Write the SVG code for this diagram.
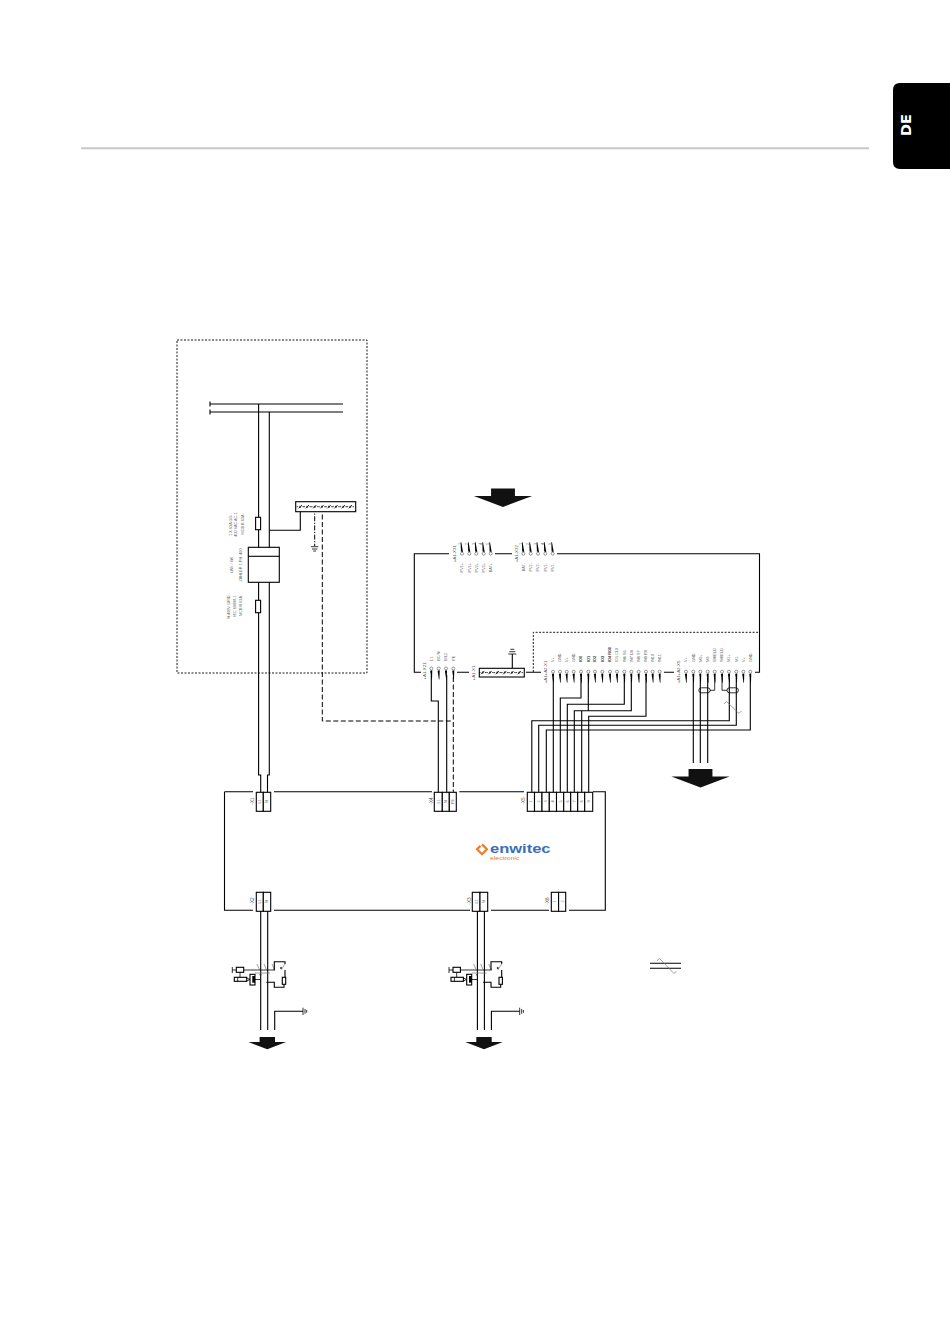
<svg xmlns="http://www.w3.org/2000/svg" width="950" height="1344" viewBox="0 0 950 1344">
<style>
text{font-family:"Liberation Sans",Arial,sans-serif;font-size:3.8px;fill:#666}
.m{text-anchor:middle}
.e{text-anchor:end}
.n{font-size:4.4px;fill:#555}
.x{font-size:4.7px;fill:#555}
.w{fill:none;stroke:#000;stroke-width:1.1}
.th{fill:none;stroke:#000;stroke-width:.8}
.box{fill:#fff;stroke:#000;stroke-width:1.1}
.dot{fill:none;stroke:#000;stroke-width:.9;stroke-dasharray:2 1.5}
.dash{fill:none;stroke:#000;stroke-width:1;stroke-dasharray:5 2.5}
.dd{fill:none;stroke:#000;stroke-width:1;stroke-dasharray:5 1.5 1.2 1.5}
.g{fill:none;stroke:#777;stroke-width:.7}
.ar{fill:#111}
.c{fill:#fff;stroke:#555;stroke-width:.6}
</style>
<defs>
<g id="pd"><circle class="c" r="1.5"/><path d="M-1.1 2.2L1 1.8L.7 11L.2 11Z" fill="#000"/></g>
<g id="pu"><circle class="c" r="1.5"/><path d="M-1 -1.8L1.1 -2.2L1.4 -11.5L.7 -11.5Z" fill="#000" transform="scale(-1,1)"/></g>
<g id="st"><path d="M-1.7 1.7L1.7 -1.7M-3.6 0H-2.2M2.2 0H3.6" stroke="#000" stroke-width=".8"/><circle r="1" fill="#222"/></g>
<g id="rcd">
<path class="th" d="M232.3 967V973M232.3 970H236.3M243.7 970H275M240 972.3V977.3M246.7 978L250 979.5L246.7 981M255 979.5H260.7"/>
<rect class="box" x="236.3" y="967.3" width="7.4" height="5" stroke-width=".8"/>
<rect class="box" x="234.3" y="977.3" width="12.4" height="4" stroke-width=".8"/>
<path class="th" d="M237.7 977.3V981.3"/>
<rect class="box" x="250" y="974.3" width="5" height="10.7" stroke-width=".8"/>
<rect x="252.3" y="976" width="2.7" height="6.7" fill="#000"/>
<path class="g" d="M257 964L259.5 970M264 964L266.5 970M272 964L274.5 970M285 964L281 970"/>
<circle cx="260.5" cy="974.7" r=".9" fill="#222"/><circle cx="267.3" cy="982.3" r=".9" fill="#222"/><circle cx="281" cy="968" r=".9" fill="#222"/>
<path class="w" d="M274.3 970V961.7H285V964M285 970V977.3M284 984.3V987.3H274.3V982.3H267.3"/>
<rect class="box" x="282.3" y="977.3" width="3.4" height="7" stroke-width=".8"/>
<path class="g" d="M255 973H270"/>
</g>
<path id="arrow" class="ar" d="M-7.7 0H7.7V5H18.8L0 12.3L-18.8 5H-7.7Z"/>
</defs>
<rect width="950" height="1344" fill="#fff"/>

<g id="page">
<path d="M81 148.3H869" stroke="#c8c8c8" stroke-width="2" fill="none"/>
<path d="M950 83H900Q893 83 893 90V162Q893 169 900 169H950Z" fill="#000"/>
<text transform="translate(911,125) rotate(-90)" class="m" style="font-family:'DejaVu Sans',sans-serif;font-weight:700;font-size:14.5px;fill:#fff">DE</text>
</g>

<g id="connectors">
<rect class="dot" x="177" y="340" width="190" height="333"/>
<path class="w" d="M210 404H343M210 412H343M210 401.5V406.5M210 409.5V414.5"/>
<path class="w" d="M258.6 404V775H260.7V792M269.3 412V775H267.5V792"/>
<path class="w" d="M269.3 530.3H300.3V507"/>
<path class="dd" d="M314.7 507V546"/>
<path class="dash" d="M322.3 507V721H453.3"/>
<path class="dash" d="M453.3 677V792"/>
<path class="w" d="M449 553.7H414.3V672.3H421M495 553.7H512M557 553.7H759.5V672.3H755"/>
<path class="w" d="M457 672.3H469M526 672.3H541M664 672.3H674"/>
<path class="dot" d="M533.3 672V632.3H759.5"/>
<path class="w" d="M431.3 675V701H438.3V792M446.7 675V792"/>
<path class="w" d="M512.3 668V654"/>
<path class="w" d="M553.3 678V792M581 678V698H560.3V792M624.3 678V704.3H567.3V792M631.3 678V710.7H574.3V792M588.3 678V710.7M646 678V716.3H588.7V792M581.7 710.7V792"/>
<path class="w" d="M729.3 678V720.7H531.8V792M736.3 678V725.3H538.7V792M750.3 678V730H546.3V792"/>
<path class="w" d="M693.3 678V763M700.3 678V763M707.7 678V763"/>
<path class="th" d="M714.7 678V690.3H710M722 678V690.3H727"/>
<rect class="th" x="698.8" y="687.8" width="11.4" height="5" rx="2.5"/>
<rect class="th" x="727" y="687.8" width="11.4" height="5" rx="2.5"/>
<path class="g" d="M724 704L726.5 701.5L739 713.5L741.5 711"/>
<path class="w" d="M224.5 791.8H253M274 791.8H432M459.3 791.8H524M593 791.8H605.3V910.3H569M549 910.3H491M470 910.3H274M253 910.3H224.5V791.8"/>
<path class="w" d="M260.7 911V1030M267.7 911V1030M274.7 1030V1011.3H303"/>
<path class="w" d="M477.4 911V1030M484.4 911V1030M491.4 1030V1011.3H519.7"/>
<path class="th" d="M303 1007.7V1015M519.7 1007.7V1015M305 1009V1013.7M521.7 1009V1013.7M306.7 1010V1012.7M523.4 1010V1012.7"/>
<path class="w" d="M650 963.3H681M650 968.3H681"/>
<path class="g" d="M657 960.7L659.5 958.5L674 973.5L676.5 971"/>
<path class="th" d="M311 546.7H318.4M312 549H317.4M313.3 551H316"/>
<path class="th" d="M508.3 654H516.3M509.3 651.7H515.3M510.3 649.3H514.3"/>
</g>

<g id="arrow-top"><use href="#arrow" transform="translate(503,488.5) scale(1.55,1.5)"/></g>
<g id="arrow-right"><use href="#arrow" transform="translate(700.5,769) scale(1.55,1.5)"/></g>
<g id="arrow-left"><use href="#arrow" transform="translate(267.3,1037)"/></g>
<g id="arrow-mid"><use href="#arrow" transform="translate(484,1037)"/></g>
<g id="rcd-1"><use href="#rcd"/></g>
<g id="rcd-2"><use href="#rcd" x="216.7"/></g>

<g id="grid-protection">
<rect class="box" x="255.6" y="517.3" width="5" height="12.4"/>
<rect class="box" x="248.3" y="547.3" width="31" height="35"/>
<path class="w" d="M248.3 556.3H279.3"/>
<rect class="box" x="255.6" y="600.3" width="5" height="12.4"/>
<text class="m" transform="translate(232.3,524.5) rotate(-90)">1 X 63A GG -</text>
<text class="m" transform="translate(237.3,524.5) rotate(-90)">400 VAC AC-1</text>
<text class="m" transform="translate(244,524.5) rotate(-90)">MCB B 63A</text>
<text class="m" transform="translate(233,565) rotate(-90)">kWh / kW</text>
<text class="m" transform="translate(241.6,565) rotate(-90)">ZÄHLER 1-PH. 400</text>
<text class="m" transform="translate(230,606) rotate(-90)">N 400V GRID -</text>
<text class="m" transform="translate(236.3,606) rotate(-90)">IEC 60898-1</text>
<text class="m" transform="translate(242.3,606) rotate(-90)">MCB B 63A</text>
</g>

<g id="pe-bar">
<rect class="box" x="295.7" y="501.7" width="60" height="10"/>
<use href="#st" x="300.3" y="506.7"/><use href="#st" x="307.3" y="506.7"/><use href="#st" x="314.7" y="506.7"/><use href="#st" x="322" y="506.7"/><use href="#st" x="329" y="506.7"/><use href="#st" x="336" y="506.7"/><use href="#st" x="343.3" y="506.7"/><use href="#st" x="350.3" y="506.7"/>
</g>

<g id="A1-X31">
<text class="m n" transform="translate(456,553.7) rotate(-90)">+A1-X31</text>
<use href="#pu" x="462" y="553.7"/><use href="#pu" x="469.3" y="553.7"/><use href="#pu" x="476.3" y="553.7"/><use href="#pu" x="483.7" y="553.7"/><use href="#pu" x="490.7" y="553.7"/>
<text class="e" transform="translate(463.4,563) rotate(-90)">PV1+</text>
<text class="e" transform="translate(470.7,563) rotate(-90)">PV1+</text>
<text class="e" transform="translate(477.7,563) rotate(-90)">PV2+</text>
<text class="e" transform="translate(485.1,563) rotate(-90)">PV2+</text>
<text class="e" transform="translate(492.1,563) rotate(-90)">BAT+</text>
<text transform="translate(460.5,545) rotate(-90)">1</text><text transform="translate(467.8,545) rotate(-90)">2</text><text transform="translate(474.8,545) rotate(-90)">3</text><text transform="translate(482.2,545) rotate(-90)">4</text><text transform="translate(489.2,545) rotate(-90)">5</text>
</g>
<g id="A1-X32">
<text class="m n" transform="translate(518,553.7) rotate(-90)">+A1-X32</text>
<use href="#pu" x="523.3" y="553.7"/><use href="#pu" x="530.7" y="553.7"/><use href="#pu" x="538" y="553.7"/><use href="#pu" x="545.3" y="553.7"/><use href="#pu" x="552.7" y="553.7"/>
<text class="e" transform="translate(524.7,563) rotate(-90)">BAT-</text>
<text class="e" transform="translate(532.1,563) rotate(-90)">PV2-</text>
<text class="e" transform="translate(539.4,563) rotate(-90)">PV2-</text>
<text class="e" transform="translate(546.7,563) rotate(-90)">PV1-</text>
<text class="e" transform="translate(554.1,563) rotate(-90)">PV1-</text>
<text transform="translate(521.8,545) rotate(-90)">1</text><text transform="translate(529.2,545) rotate(-90)">2</text><text transform="translate(536.5,545) rotate(-90)">3</text><text transform="translate(543.8,545) rotate(-90)">4</text><text transform="translate(551.2,545) rotate(-90)">5</text>
</g>
<g id="A1-X21">
<text class="m n" transform="translate(426,671) rotate(-90)">+A1-X21</text>
<use href="#pd" x="431.3" y="668.5"/><use href="#pd" x="438.7" y="668.5"/><use href="#pd" x="446" y="668.5"/><use href="#pd" x="453.3" y="668.5"/>
<text transform="translate(432.7,660.7) rotate(-90)">L1</text>
<text transform="translate(440.1,660.7) rotate(-90)">BC/N</text>
<text transform="translate(447.4,660.7) rotate(-90)">B/L2</text>
<text transform="translate(454.7,660.7) rotate(-90)">PE</text>
</g>
<g id="A1-X1">
<text class="m n" transform="translate(475,673) rotate(-90)">+A1-X1</text>
<rect class="box" x="479.3" y="668.3" width="45" height="8.7"/>
<use href="#st" x="482.7" y="672.6"/><use href="#st" x="490" y="672.6"/><use href="#st" x="497.3" y="672.6"/><use href="#st" x="504.7" y="672.6"/><use href="#st" x="512" y="672.6"/><use href="#st" x="519.3" y="672.6"/>
</g>
<g id="A1-A2-X1">
<text class="m n" transform="translate(547.3,672) rotate(-90)">+A1+A2-X1</text>
<use href="#pd" x="553" y="671.7"/><use href="#pd" x="560" y="671.7"/><use href="#pd" x="566.7" y="671.7"/><use href="#pd" x="573.7" y="671.7"/><use href="#pd" x="581" y="671.7"/><use href="#pd" x="588.3" y="671.7"/><use href="#pd" x="595" y="671.7"/><use href="#pd" x="602.3" y="671.7"/><use href="#pd" x="610" y="671.7"/><use href="#pd" x="617" y="671.7"/><use href="#pd" x="624.3" y="671.7"/><use href="#pd" x="631.3" y="671.7"/><use href="#pd" x="638.7" y="671.7"/><use href="#pd" x="646" y="671.7"/><use href="#pd" x="652.7" y="671.7"/><use href="#pd" x="659.7" y="671.7"/>
<text transform="translate(554.4,662) rotate(-90)">V+</text>
<text transform="translate(561.4,662) rotate(-90)">GND</text>
<text transform="translate(568.1,662) rotate(-90)">V+</text>
<text transform="translate(575.1,662) rotate(-90)">GND</text>
<text transform="translate(582.4,662) rotate(-90)" font-weight="700" style="fill:#333">IO0</text>
<text transform="translate(589.7,662) rotate(-90)" font-weight="700" style="fill:#333">IO1</text>
<text transform="translate(596.4,662) rotate(-90)" font-weight="700" style="fill:#333">IO2</text>
<text transform="translate(603.7,662) rotate(-90)" font-weight="700" style="fill:#333">IO3</text>
<text transform="translate(611.4,662) rotate(-90)" font-weight="700" style="fill:#333">IO4 RG0</text>
<text transform="translate(618.4,662) rotate(-90)">IO5 CL0</text>
<text transform="translate(625.7,662) rotate(-90)">IN6 S6</text>
<text transform="translate(632.7,662) rotate(-90)">IN7 D8</text>
<text transform="translate(640.1,662) rotate(-90)">IN8 S7</text>
<text transform="translate(647.4,662) rotate(-90)">IN9 R8</text>
<text transform="translate(654.1,662) rotate(-90)">IN10</text>
<text transform="translate(661.1,662) rotate(-90)">IN11</text>
</g>
<g id="A1-A2-X5">
<text class="m n" transform="translate(680,672) rotate(-90)">+A1+A2-X5</text>
<use href="#pd" x="686" y="671.7"/><use href="#pd" x="693.3" y="671.7"/><use href="#pd" x="700.3" y="671.7"/><use href="#pd" x="707.7" y="671.7"/><use href="#pd" x="714.7" y="671.7"/><use href="#pd" x="722" y="671.7"/><use href="#pd" x="729" y="671.7"/><use href="#pd" x="736.3" y="671.7"/><use href="#pd" x="743.3" y="671.7"/><use href="#pd" x="750.3" y="671.7"/>
<text transform="translate(687.4,662) rotate(-90)">V+</text>
<text transform="translate(694.7,662) rotate(-90)">GND</text>
<text transform="translate(701.7,662) rotate(-90)">M0+</text>
<text transform="translate(709.1,662) rotate(-90)">M0-</text>
<text transform="translate(716.1,662) rotate(-90)">SHIELD</text>
<text transform="translate(723.4,662) rotate(-90)">SHIELD</text>
<text transform="translate(730.4,662) rotate(-90)">M1+</text>
<text transform="translate(737.7,662) rotate(-90)">M1-</text>
<text transform="translate(744.7,662) rotate(-90)">V+</text>
<text transform="translate(751.7,662) rotate(-90)">GND</text>
</g>

<g id="X1">
<rect class="box" x="256.3" y="792.3" width="7" height="19"/><rect class="box" x="263.3" y="792.3" width="7.4" height="19"/>
<text class="m x" transform="translate(254,801) rotate(-90)">-X1</text>
<text class="m" transform="translate(261.2,801.5) rotate(-90)">L1</text><text class="m" transform="translate(268.4,801.5) rotate(-90)">N</text>
</g>
<g id="X2">
<rect class="box" x="256.3" y="892.3" width="7" height="19"/><rect class="box" x="263.3" y="892.3" width="7.4" height="19"/>
<text class="m x" transform="translate(254,901) rotate(-90)">-X2</text>
<text class="m" transform="translate(261.2,901.5) rotate(-90)">L1</text><text class="m" transform="translate(268.4,901.5) rotate(-90)">N</text>
</g>
<g id="X3">
<rect class="box" x="472.3" y="892.3" width="7.7" height="19"/><rect class="box" x="480" y="892.3" width="7.7" height="19"/>
<text class="m x" transform="translate(470.6,901) rotate(-90)">-X3</text>
<text class="m" transform="translate(477.5,901.5) rotate(-90)">L1</text><text class="m" transform="translate(485.2,901.5) rotate(-90)">N</text>
</g>
<g id="X4">
<rect class="box" x="434.3" y="792.3" width="8" height="19"/><rect class="box" x="442.3" y="792.3" width="7" height="19"/><rect class="box" x="449.3" y="792.3" width="7" height="19"/>
<text class="m x" transform="translate(432.7,801) rotate(-90)">-X4</text>
<text class="m" transform="translate(439.7,801.5) rotate(-90)">L1</text><text class="m" transform="translate(447.2,801.5) rotate(-90)">N</text><text class="m" transform="translate(454.2,801.5) rotate(-90)">PE</text>
</g>
<g id="X5">
<rect class="box" x="527.3" y="792.3" width="7.2" height="19"/><rect class="box" x="534.5" y="792.3" width="7.5" height="19"/><rect class="box" x="542" y="792.3" width="7.3" height="19"/><rect class="box" x="549.3" y="792.3" width="7.2" height="19"/><rect class="box" x="556.5" y="792.3" width="7.2" height="19"/><rect class="box" x="563.7" y="792.3" width="7" height="19"/><rect class="box" x="570.7" y="792.3" width="7" height="19"/><rect class="box" x="577.7" y="792.3" width="7" height="19"/><rect class="box" x="584.7" y="792.3" width="8" height="19"/>
<text class="m x" transform="translate(525.3,801) rotate(-90)">-X5</text>
<text class="m" transform="translate(532.3,801.5) rotate(-90)">1</text><text class="m" transform="translate(539.6,801.5) rotate(-90)">2</text><text class="m" transform="translate(547,801.5) rotate(-90)">3</text><text class="m" transform="translate(554.3,801.5) rotate(-90)">4</text><text class="m" transform="translate(561.5,801.5) rotate(-90)">5</text><text class="m" transform="translate(568.6,801.5) rotate(-90)">6</text><text class="m" transform="translate(575.6,801.5) rotate(-90)">7</text><text class="m" transform="translate(582.6,801.5) rotate(-90)">8</text><text class="m" transform="translate(590.1,801.5) rotate(-90)">9</text>
</g>
<g id="X6">
<rect class="box" x="551.3" y="892.3" width="7.3" height="19"/><rect class="box" x="558.6" y="892.3" width="7.1" height="19"/>
<text class="m x" transform="translate(549.3,901) rotate(-90)">-X6</text>
<text class="m" transform="translate(556.3,901.5) rotate(-90)">1</text><text class="m" transform="translate(563.5,901.5) rotate(-90)">2</text>
</g>

<g id="logo">
<path d="M482 844.4L486.9 849.3L482 854.2L477.1 849.3L480.5 845.9" fill="none" stroke="#ee7d22" stroke-width="2.2"/>
<text x="490" y="852.7" textLength="60.5" lengthAdjust="spacingAndGlyphs" style="font-weight:700;font-size:13.5px;fill:#3a6fb7">enwitec</text>
<text x="490" y="860.3" textLength="29.5" lengthAdjust="spacingAndGlyphs" style="font-size:5.2px;fill:#ee7d22">electronic</text>
</g>
</svg>
